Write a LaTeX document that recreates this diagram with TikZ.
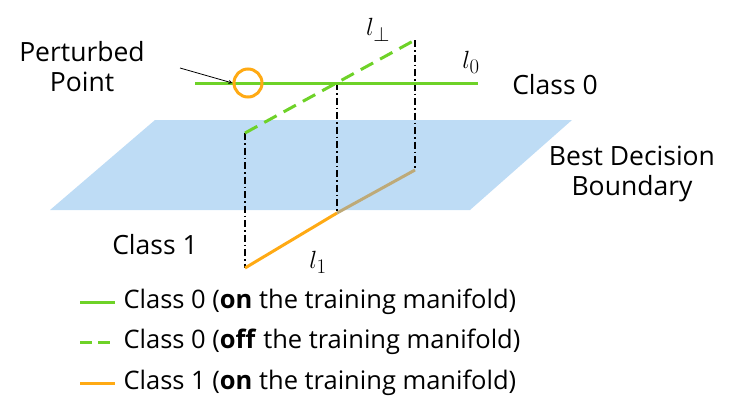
\documentclass[tikz,border=0pt]{standalone}
\usepackage{fontspec}
\setmainfont{Open Sans}
\begin{document}
\begin{tikzpicture}[x=1pt,y=-1pt,
  lbl/.style={font=\fontsize{26.5}{30}\selectfont, align=center},
  leg/.style={font=\fontsize{25.5}{28}\selectfont, anchor=west},
  vdash/.style={dash pattern=on 7pt off 3pt on 1.5pt off 3pt, line width=1.3pt}]
\definecolor{gr}{RGB}{110,210,40}
\definecolor{orr}{RGB}{255,170,20}
\definecolor{tan}{RGB}{190,170,120}
\definecolor{pl}{RGB}{190,220,245}
\useasboundingbox (0,0) rectangle (748,413);
\fill[pl] (155,120) -- (572,120) -- (470,210) -- (50,210) -- cycle;
\coordinate (a1) at (245,133); \coordinate (a2) at (245,268);
\coordinate (b1) at (337,83); \coordinate (b2) at (337,213);
\coordinate (c1) at (415,40); \coordinate (c2) at (415,170);
\coordinate (g1) at (195,83); \coordinate (g2) at (478,83);
\draw[vdash] (a1) -- (a2);
\draw[vdash] (b1) -- (b2);
\draw[vdash] (c1) -- (c2);
\draw[gr, line width=3pt] (g1) -- (g2);
\draw[gr, line width=3pt, dash pattern=on 14pt off 8pt] (a1) -- (c1);
\draw[orr, line width=3pt] (a2) -- (b2);
\draw[tan, line width=3pt] (b2) -- (c2);
\node[draw=orr, line width=3pt, circle, minimum size=28pt, inner sep=0] (pp) at (248,83) {};
\node[lbl] (pt) at (82,67) {Perturbed\\Point};
\draw[-stealth, line width=0.8pt] (180,68) -- (pp.west);
\node[font=\fontsize{30}{32}\selectfont\rmfamily] (lp) at (378,30) {$l_\perp$};
\node[font=\fontsize{30}{32}\selectfont\rmfamily] (l0) at (471,62) {$l_0$};
\node[font=\fontsize{30}{32}\selectfont\rmfamily] (l1) at (318,262) {$l_1$};
\node[lbl] (c0) at (555,85) {Class 0};
\node[lbl] (bd) at (632,174) {Best Decision\\Boundary};
\node[lbl] (cl1) at (155,245) {Class 1};
\draw[gr, line width=3pt] (80,302) -- (115,302);
\draw[gr, line width=3pt, dash pattern=on 12pt off 6pt] (80,342) -- (115,342);
\draw[orr, line width=3pt] (80,383) -- (115,383);
\node[leg] (t1) at (120,302) {Class 0 (\textbf{on} the training manifold)};
\node[leg] (t2) at (120,342) {Class 0 (\textbf{off} the training manifold)};
\node[leg] (t3) at (120,383) {Class 1 (\textbf{on} the training manifold)};
\end{tikzpicture}
\end{document}
